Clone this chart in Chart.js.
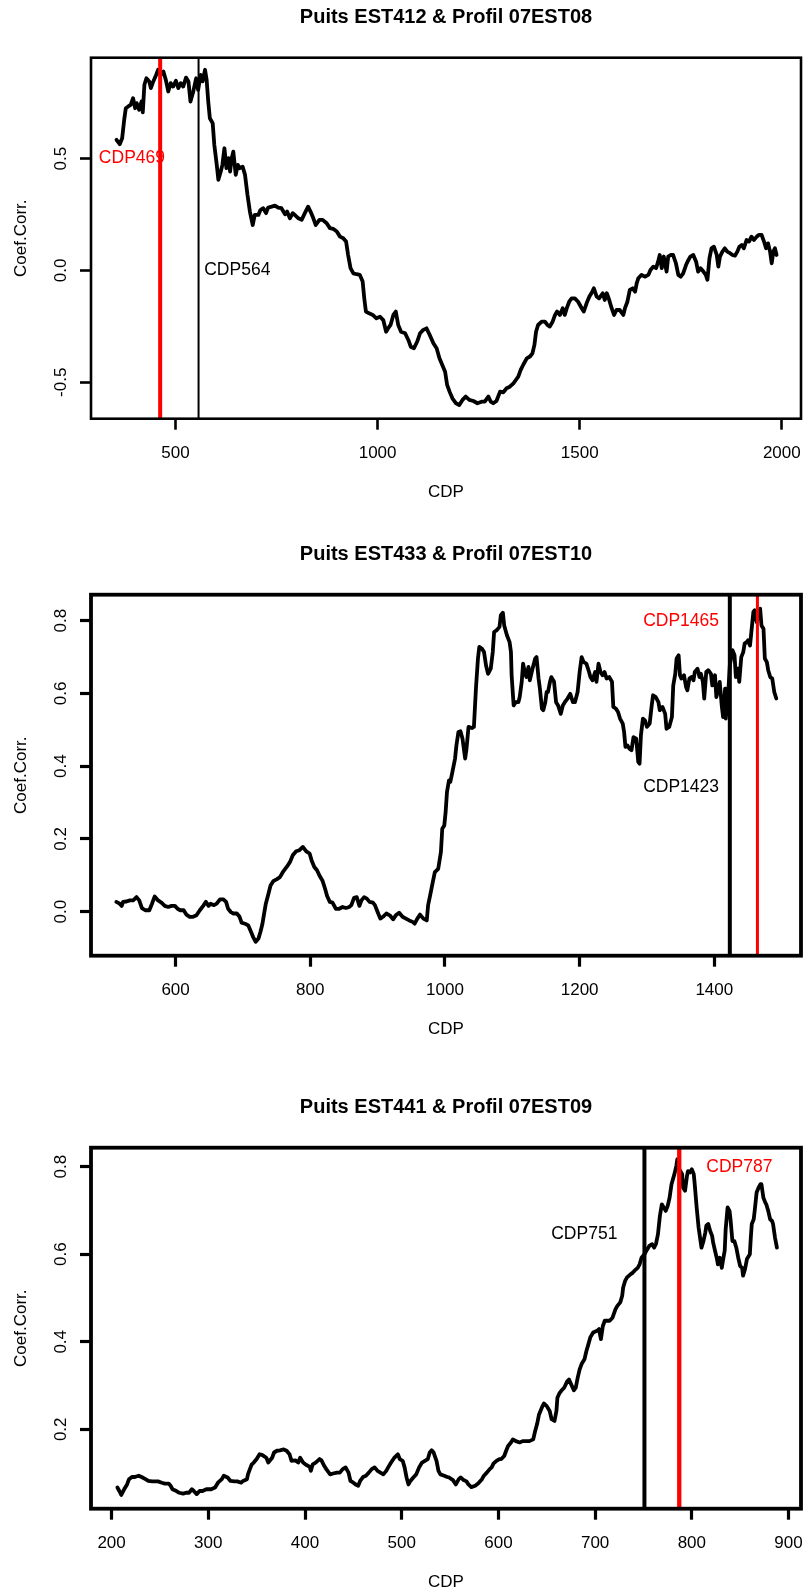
<!DOCTYPE html>
<html>
<head>
<meta charset="utf-8">
<title>Coef.Corr. / CDP</title>
<script src="https://cdn.jsdelivr.net/npm/chart.js@4.4.1/dist/chart.umd.min.js"></script>
<style>
  html, body { margin: 0; padding: 0; background: #fff; }
  body { width: 803px; height: 1593px; position: relative; overflow: hidden; }
  .panel { position: absolute; left: 0; width: 803px; height: 503px; }
</style>
</head>
<body>
<div class="panel" style="top:0px"><canvas id="chart1" width="803" height="503"></canvas></div>
<div class="panel" style="top:537px"><canvas id="chart2" width="803" height="503"></canvas></div>
<div class="panel" style="top:1090px"><canvas id="chart3" width="803" height="503"></canvas></div>
<script>
// Puits EST412 & Profil 07EST08
const cdp1 = [
  354,362,368,373,377,383,389,395,400,404, 410,416,419,423,428,435,439,445,452,457,
  463,470,476,482,488,494,501,507,513,519, 526,532,537,544,551,556,562,567,573,577,
  581,585,592,596,602,606,612,616,621,626, 631,635,639,643,649,654,659,666,672,678,
  684,691,696,705,710,717,724,729,738,746, 754,762,771,776,783,790,795,804,812,820,
  828,834,841,847,856,864,874,882,890,899, 907,915,922,927,933,940,948,956,963,967,
  971,979,988,997,1006,1014,1021,1026,1032,1039, 1045,1051,1058,1068,1076,1082,1090,1098,1105,1113,
  1121,1129,1138,1146,1153,1160,1167,1172,1178,1185, 1194,1202,1210,1218,1227,1237,1247,1257,1265,1274,
  1280,1286,1294,1303,1311,1319,1327,1336,1342,1348, 1354,1360,1369,1377,1383,1388,1392,1397,1406,1414,
  1420,1426,1433,1439,1444,1451,1458,1463,1468,1474, 1480,1488,1496,1505,1510,1517,1524,1529,1535,1542,
  1548,1557,1562,1567,1573,1579,1585,1591,1599,1608, 1612,1618,1624,1631,1637,1641,1645,1653,1661,1670,
  1675,1682,1689,1694,1698,1703,1708,1715,1719,1725, 1731,1738,1744,1750,1756,1763,1769,1774,1781,1788,
  1793,1799,1806,1812,1816,1821,1826,1832,1839,1843, 1847,1853,1859,1865,1872,1878,1884,1890,1895,1901,
  1906,1913,1919,1925,1931,1938,1944,1950,1956,1961, 1966,1971,1975,1979,1983,1987
]
const coef1 = [
  0.584,0.564,0.591,0.673,0.725,0.733,0.740,0.770,0.725,0.748, 0.718,0.755,0.707,0.830,0.859,0.845,0.815,0.845,0.874,0.897,
  0.874,0.889,0.852,0.800,0.837,0.822,0.848,0.815,0.837,0.822, 0.862,0.845,0.755,0.800,0.859,0.807,0.874,0.845,0.897,0.852,
  0.755,0.680,0.658,0.561,0.472,0.405,0.442,0.472,0.546,0.457, 0.502,0.442,0.502,0.531,0.427,0.472,0.457,0.464,0.427,0.338,
  0.263,0.203,0.248,0.248,0.270,0.278,0.256,0.281,0.285,0.290, 0.281,0.278,0.251,0.263,0.233,0.256,0.248,0.233,0.226,0.256,
  0.285,0.263,0.233,0.203,0.226,0.226,0.211,0.189,0.186,0.174, 0.151,0.144,0.129,0.069,0.010,-0.013,-0.017,-0.020,-0.050,-0.125,
  -0.184,-0.192,-0.199,-0.214,-0.207,-0.222,-0.274,-0.259,-0.244,-0.199, -0.184,-0.244,-0.274,-0.281,-0.311,-0.341,-0.348,-0.318,-0.281,-0.266,
  -0.259,-0.289,-0.326,-0.348,-0.393,-0.423,-0.453,-0.512,-0.542,-0.572, -0.594,-0.602,-0.579,-0.564,-0.579,-0.584,-0.594,-0.587,-0.587,-0.564,
  -0.587,-0.594,-0.584,-0.542,-0.545,-0.527,-0.520,-0.505,-0.490,-0.475, -0.445,-0.423,-0.393,-0.385,-0.371,-0.333,-0.274,-0.244,-0.229,-0.229,
  -0.244,-0.251,-0.229,-0.199,-0.184,-0.199,-0.169,-0.199,-0.169,-0.140, -0.125,-0.125,-0.140,-0.169,-0.184,-0.147,-0.117,-0.102,-0.080,-0.117,
  -0.125,-0.102,-0.132,-0.102,-0.132,-0.169,-0.199,-0.177,-0.177,-0.199, -0.169,-0.140,-0.087,-0.080,-0.095,-0.058,-0.035,-0.020,-0.028,-0.020,
  0.002,0.017,0.010,0.039,0.069,0.010,0.062,-0.005,0.062,0.069, 0.069,0.032,-0.020,-0.028,-0.013,0.024,0.047,0.062,0.069,0.039,
  -0.005,0.010,-0.005,-0.020,-0.042,0.054,0.099,0.106,0.069,0.017, 0.062,0.084,0.099,0.084,0.077,0.069,0.066,0.084,0.106,0.114,
  0.099,0.136,0.129,0.151,0.136,0.151,0.159,0.159,0.129,0.099, 0.121,0.084,0.032,0.084,0.099,0.069
]
const xTicks1 = [500, 1000, 1500, 2000]
const yTicks1 = [-0.5, 0, 0.5]
const vlines1 = [462, 557]          // rouge, noir
const notes1 = ["CDP469", "CDP564"]
const noteX1 = [474, 571]
const noteY1 = [0.5, 0.0]

// Puits EST433 & Profil 07EST10
const cdp2 = [
  512,517,520,522,527,532,537,542,546,550, 555,561,565,569,574,579,584,589,594,599,
  603,607,612,616,621,626,631,636,641,645, 649,652,657,661,666,671,675,678,682,686,
  691,695,698,703,708,711,715,719,723,726, 729,731,734,738,741,745,750,755,760,765,
  770,774,779,784,789,794,799,802,806,810, 814,818,822,825,829,833,838,843,848,853,
  858,861,865,869,873,876,880,884,888,893, 896,900,904,908,913,918,923,927,932,937,
  942,947,952,955,959,963,968,973,975,978, 982,985,990,994,996,999,1001,1003,1006,1008,
  1011,1015,1017,1020,1023,1026,1030,1032,1035,1040, 1043,1046,1049,1051,1055,1058,1061,1064,1068,1071,
  1073,1077,1081,1083,1086,1088,1092,1096,1098,1099, 1102,1105,1109,1111,1114,1116,1119,1121,1124,1126,
  1130,1134,1136,1139,1141,1144,1146,1149,1151,1153, 1156,1158,1162,1165,1168,1172,1175,1178,1182,1186,
  1190,1193,1197,1200,1203,1206,1210,1214,1216,1219, 1223,1225,1228,1231,1234,1237,1240,1244,1248,1250,
  1254,1257,1260,1264,1266,1268,1271,1274,1277,1280, 1284,1287,1289,1291,1294,1297,1300,1304,1307,1309,
  1313,1317,1319,1323,1327,1329,1333,1337,1339,1342, 1344,1347,1349,1351,1355,1358,1360,1363,1366,1369,
  1371,1375,1378,1380,1383,1385,1388,1391,1395,1397, 1401,1403,1406,1408,1411,1413,1416,1417,1421,1423,
  1427,1430,1432,1435,1437,1440,1443,1445,1448,1450, 1453,1455,1458,1460,1463,1465,1468,1470,1473,1475,
  1478,1480,1483,1486,1489,1492
]
const coef2 = [
  0.027,0.022,0.016,0.027,0.028,0.031,0.031,0.040,0.031,0.010, 0.004,0.004,0.022,0.042,0.031,0.025,0.016,0.013,0.016,0.016,
  0.008,0.004,0.004,-0.008,-0.014,-0.014,-0.010,0.004,0.016,0.027, 0.016,0.022,0.018,0.022,0.034,0.034,0.027,0.008,-0.001,-0.005,
  -0.005,-0.014,-0.030,-0.033,-0.038,-0.051,-0.069,-0.083,-0.074,-0.056, -0.033,-0.010,0.022,0.050,0.072,0.084,0.089,0.095,0.111,0.123,
  0.137,0.155,0.166,0.169,0.178,0.166,0.160,0.141,0.123,0.114, 0.098,0.086,0.063,0.043,0.027,0.025,0.008,0.008,0.013,0.010,
  0.013,0.018,0.038,0.040,0.016,0.031,0.040,0.036,0.027,0.025, 0.018,-0.001,-0.019,-0.014,-0.005,-0.010,-0.021,-0.010,-0.003,-0.014,
  -0.019,-0.024,-0.028,-0.033,-0.019,-0.008,-0.019,-0.024,0.018,0.045, 0.082,0.109,0.118,0.164,0.228,0.237,0.274,0.329,0.361,0.357,
  0.384,0.421,0.457,0.494,0.496,0.476,0.421,0.448,0.508,0.505, 0.508,0.613,0.696,0.728,0.723,0.714,0.677,0.654,0.668,0.714,
  0.769,0.774,0.783,0.815,0.822,0.787,0.760,0.741,0.714,0.650, 0.567,0.576,0.576,0.590,0.632,0.682,0.654,0.645,0.673,0.636,
  0.668,0.696,0.700,0.641,0.613,0.558,0.554,0.576,0.604,0.604, 0.632,0.645,0.632,0.576,0.567,0.544,0.567,0.576,0.586,0.599,
  0.576,0.576,0.604,0.659,0.700,0.686,0.682,0.659,0.645,0.636, 0.659,0.632,0.682,0.659,0.650,0.659,0.641,0.645,0.632,0.563,
  0.558,0.549,0.531,0.517,0.494,0.453,0.457,0.448,0.444,0.480, 0.476,0.412,0.407,0.485,0.531,0.526,0.508,0.517,0.567,0.595,
  0.590,0.576,0.554,0.563,0.544,0.503,0.508,0.535,0.622,0.654, 0.696,0.705,0.650,0.641,0.650,0.618,0.609,0.641,0.645,0.636,
  0.659,0.668,0.645,0.654,0.632,0.586,0.659,0.664,0.654,0.622, 0.650,0.590,0.613,0.632,0.567,0.535,0.613,0.531,0.613,0.677,
  0.719,0.705,0.645,0.668,0.632,0.700,0.714,0.737,0.741,0.746, 0.732,0.769,0.824,0.829,0.796,0.824,0.833,0.787,0.778,0.696,
  0.686,0.664,0.645,0.641,0.604,0.586
]
const xTicks2 = [600, 800, 1000, 1200, 1400]
const yTicks2 = [0, 0.2, 0.4, 0.6, 0.8]
const vlines2 = [1464, 1423]        // rouge, noir
const notes2 = ["CDP1465", "CDP1423"]
const noteX2 = [1407, 1407]
const noteY2 = [0.8, 0.343]

// Puits EST441 & Profil 07EST09
const cdp3 = [
  206,208,210,213,216,218,221,224,228,231, 235,238,242,245,248,252,255,259,261,263,
  267,270,274,277,280,283,285,288,291,294, 298,303,307,310,314,316,320,323,327,330,
  334,336,340,341,343,345,347,350,353,356, 360,362,366,368,371,374,378,381,384,386,
  390,393,395,398,401,405,406,408,411,415, 417,420,422,426,429,433,436,439,442,445,
  447,450,453,455,457,460,463,466,469,472, 475,478,481,484,486,489,492,496,498,501,
  503,505,507,509,512,515,518,521,524,527, 529,531,533,536,538,540,544,547,549,553,
  556,559,561,564,567,569,572,576,579,583, 585,588,591,593,595,598,601,603,606,608,
  610,613,615,618,622,625,629,632,636,638, 640,642,645,647,650,653,655,658,660,661,
  663,665,668,671,673,676,678,680,682,684, 686,689,691,693,695,698,702,704,706,708,
  710,713,715,718,721,723,726,728,729,731, 733,736,739,741,744,746,748,751,753,756,
  759,761,763,765,767,769,771,773,775,777, 779,782,784,785,787,790,791,793,795,796,
  798,800,802,803,805,807,809,810,812,814, 815,817,819,821,822,824,826,827,829,831,
  833,834,835,837,839,840,842,844,846,848, 850,852,853,855,857,860,861,862,864,865,
  867,869,871,872,874,876,877,879,881,883, 884,886,888
]
const coef3 = [
  0.067,0.059,0.050,0.063,0.074,0.086,0.091,0.091,0.094,0.091, 0.086,0.082,0.081,0.081,0.081,0.078,0.076,0.076,0.071,0.063,
  0.059,0.055,0.053,0.055,0.055,0.063,0.059,0.052,0.059,0.059, 0.063,0.063,0.067,0.078,0.086,0.094,0.090,0.082,0.081,0.081,
  0.078,0.082,0.086,0.097,0.109,0.120,0.124,0.132,0.143,0.141, 0.135,0.124,0.135,0.147,0.151,0.152,0.154,0.151,0.143,0.128,
  0.129,0.124,0.135,0.124,0.119,0.114,0.105,0.120,0.124,0.132, 0.129,0.116,0.109,0.097,0.099,0.101,0.101,0.109,0.113,0.101,
  0.082,0.078,0.073,0.071,0.082,0.091,0.094,0.101,0.109,0.113, 0.105,0.101,0.097,0.105,0.113,0.124,0.134,0.143,0.132,0.128,
  0.113,0.090,0.074,0.082,0.090,0.097,0.113,0.124,0.128,0.132, 0.147,0.152,0.147,0.128,0.105,0.097,0.094,0.091,0.090,0.084,
  0.074,0.086,0.090,0.084,0.081,0.074,0.068,0.071,0.076,0.086, 0.094,0.101,0.109,0.113,0.122,0.128,0.132,0.132,0.139,0.151,
  0.162,0.170,0.177,0.173,0.170,0.173,0.173,0.173,0.177,0.196, 0.212,0.234,0.250,0.259,0.253,0.242,0.223,0.219,0.242,0.272,
  0.282,0.288,0.295,0.309,0.314,0.299,0.289,0.295,0.318,0.337, 0.349,0.360,0.379,0.394,0.410,0.421,0.425,0.429,0.406,0.436,
  0.448,0.448,0.448,0.455,0.474,0.482,0.490,0.505,0.524,0.539, 0.547,0.553,0.558,0.563,0.569,0.577,0.592,0.600,0.608,0.619,
  0.623,0.615,0.624,0.646,0.688,0.714,0.707,0.699,0.710,0.729, 0.760,0.783,0.802,0.817,0.794,0.783,0.752,0.745,0.779,0.790,
  0.787,0.794,0.783,0.760,0.707,0.661,0.630,0.615,0.630,0.650, 0.665,0.669,0.653,0.642,0.627,0.608,0.589,0.577,0.592,0.569,
  0.596,0.608,0.657,0.707,0.699,0.680,0.630,0.630,0.615,0.592, 0.573,0.569,0.551,0.566,0.589,0.600,0.638,0.669,0.680,0.699,
  0.741,0.752,0.760,0.760,0.729,0.718,0.714,0.699,0.680,0.676, 0.669,0.638,0.615
]
const xTicks3 = [200, 300, 400, 500, 600, 700, 800, 900]
const yTicks3 = [0.2, 0.4, 0.6, 0.8]
const vlines3 = [787, 751]          // rouge, noir
const notes3 = ["CDP787", "CDP751"]
const noteX3 = [815, 723]
const noteY3 = [0.798, 0.645]

Chart.defaults.font.family = '"Liberation Sans", Arial, Helvetica, sans-serif'
Chart.defaults.color = "#000"

// cadre autour de la zone du graphique
const framePlugin = {
  id: "frame",
  afterDraw(chart, args, opts) {
    const a = chart.chartArea
    const ctx = chart.ctx
    ctx.save()
    ctx.strokeStyle = "#000"
    ctx.lineWidth = opts.width
    ctx.strokeRect(a.left, a.top, a.right - a.left, a.bottom - a.top)
    ctx.restore()
  },
}

// étiquettes CDPxxx
const notesPlugin = {
  id: "notes",
  afterDatasetsDraw(chart, args, opts) {
    const ctx = chart.ctx
    const sx = chart.scales.x
    const sy = chart.scales.y
    ctx.save()
    ctx.font = '17.5px "Liberation Sans", Arial, sans-serif'
    ctx.textBaseline = "middle"
    opts.texts.forEach((t, i) => {
      ctx.fillStyle = opts.colors[i]
      ctx.textAlign = opts.aligns[i]
      ctx.fillText(t, sx.getPixelForValue(opts.xs[i]), sy.getPixelForValue(opts.ys[i]))
    })
    ctx.restore()
  },
}

function makeChart(id, p) {
  const ctx = document.getElementById(id).getContext("2d")
  const vlineSets = p.vlines.map((v, i) => ({
    data: [{ x: v, y: p.yMin }, { x: v, y: p.yMax }],
    borderColor: i === 0 ? "#ff0000" : "#000000",
    borderWidth: p.vlineWidths[i],
    pointRadius: 0,
  }))
  new Chart(ctx, {
    type: "line",
    data: {
      datasets: [
        ...vlineSets,
        {
          data: p.cdp.map((c, i) => ({ x: c, y: p.coef[i] })),
          borderColor: "#000000",
          borderWidth: 3.8,
          borderJoinStyle: "round",
          borderCapStyle: "round",
          pointRadius: 0,
          tension: 0,
        },
      ],
    },
    options: {
      responsive: false,
      animation: false,
      events: [],
      layout: { padding: { left: 0, right: 2, top: 0, bottom: 0 } },
      plugins: {
        legend: { display: false },
        tooltip: { enabled: false },
        title: {
          display: true,
          text: p.title,
          fullSize: false,
          color: "#000",
          font: { size: 20, weight: "bold", lineHeight: 1.2 },
          padding: { top: 5, bottom: 28.7 },
        },
        frame: { width: p.frameWidth },
        notes: { texts: p.notes, xs: p.noteX, ys: p.noteY, colors: ["#ff0000", "#000000"], aligns: p.noteAligns },
      },
      scales: {
        x: {
          type: "linear",
          min: p.xMin,
          max: p.xMax,
          afterBuildTicks: (s) => { s.ticks = p.xTicks.map((v) => ({ value: v })) },
          afterFit: (s) => { s.height = 84.3; s.paddingLeft = 0; s.paddingRight = 0 },
          border: { display: false },
          grid: { drawOnChartArea: false, drawTicks: true, tickLength: 11, tickColor: "#000", tickWidth: p.tickWidth },
          ticks: { autoSkip: false, maxRotation: 0, padding: 13.4, font: { size: 17 }, callback: (v) => String(v) },
          title: { display: true, text: "CDP", font: { size: 17 }, padding: { top: 0, bottom: 0 } },
        },
        y: {
          type: "linear",
          min: p.yMin,
          max: p.yMax,
          afterBuildTicks: (s) => { s.ticks = p.yTicks.map((v) => ({ value: v })) },
          afterFit: (s) => { s.width = 91; s.paddingTop = 0; s.paddingBottom = 0 },
          border: { display: false },
          grid: { drawOnChartArea: false, drawTicks: true, tickLength: 11, tickColor: "#000", tickWidth: p.tickWidth },
          ticks: {
            autoSkip: false, minRotation: 90, maxRotation: 90, crossAlign: "center",
            padding: p.yTickPad, font: { size: 17 }, callback: (v) => v.toFixed(1),
          },
          title: { display: true, text: "Coef.Corr.", font: { size: 17 }, padding: { top: 10.8, bottom: 0 } },
        },
      },
    },
    plugins: [framePlugin, notesPlugin],
  })
}

makeChart("chart1", {
  title: "Puits EST412 & Profil 07EST08",
  cdp: cdp1, coef: coef1, xTicks: xTicks1, yTicks: yTicks1,
  xMin: 290.9, xMax: 2047.5, yMin: -0.663, yMax: 0.951,
  vlines: vlines1, vlineWidths: [4, 2],
  notes: notes1, noteX: noteX1, noteY: noteY1, noteAligns: ["right", "left"],
  frameWidth: 2.6, tickWidth: 2.6, yTickPad: 4,
})

makeChart("chart2", {
  title: "Puits EST433 & Profil 07EST10",
  cdp: cdp2, coef: coef2, xTicks: xTicks2, yTicks: yTicks2,
  xMin: 474.4, xMax: 1528.7, yMin: -0.121, yMax: 0.8715,
  vlines: vlines2, vlineWidths: [3, 4],
  notes: notes2, noteX: noteX2, noteY: noteY2, noteAligns: ["right", "right"],
  frameWidth: 3.8, tickWidth: 3.2, yTickPad: 6.8,
})

makeChart("chart3", {
  title: "Puits EST441 & Profil 07EST09",
  cdp: cdp3, coef: coef3, xTicks: xTicks3, yTicks: yTicks3,
  xMin: 178.7, xMax: 912.9, yMin: 0.0186, yMax: 0.8434,
  vlines: vlines3, vlineWidths: [4.3, 4],
  notes: notes3, noteX: noteX3, noteY: noteY3, noteAligns: ["left", "right"],
  frameWidth: 3.8, tickWidth: 3.2, yTickPad: 6.8,
})
</script>
</body>
</html>
